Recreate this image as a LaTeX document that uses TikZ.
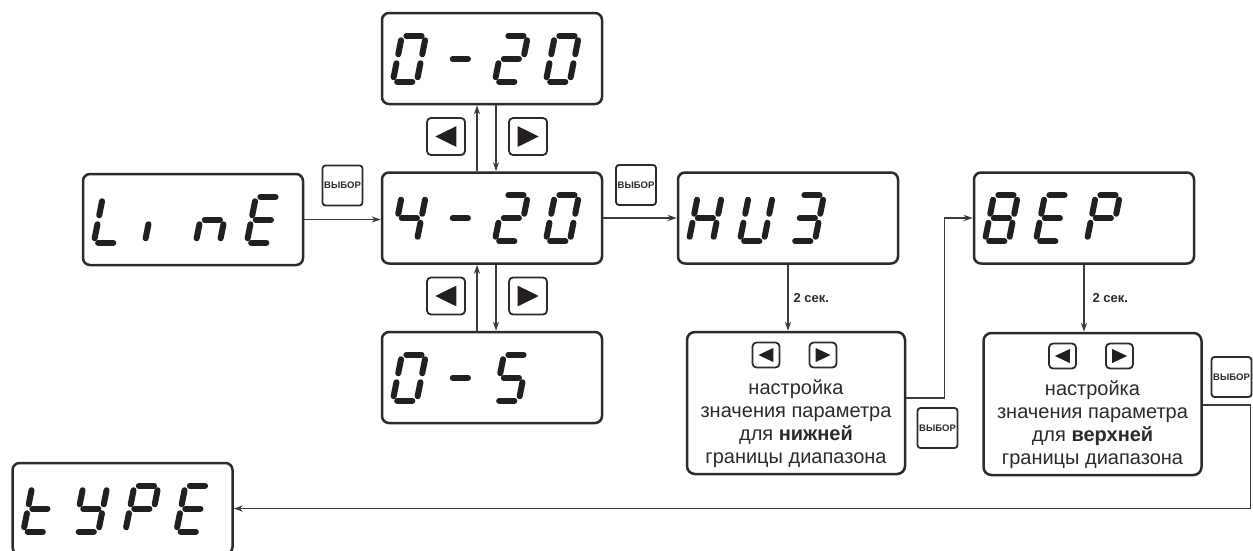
\documentclass[tikz,border=0pt]{standalone}
\usepackage{fontspec}
\setmainfont{Liberation Sans}
\usetikzlibrary{arrows.meta,calc}
\definecolor{ink}{HTML}{2B2B2B}
\definecolor{segc}{HTML}{231F20}
\definecolor{wirec}{HTML}{3C3C3C}
\tikzset{
 disp/.style={draw=ink, line width=2.5pt, rounded corners=7pt, minimum width=220pt, minimum height=91pt, inner sep=0pt},
 seg/.style={draw=segc, line width=6pt, line cap=round},
 selbtn/.style={draw=ink, line width=1.8pt, rounded corners=3pt, minimum size=40pt, inner sep=0pt, font=\fontsize{9.5}{10}\selectfont\bfseries, text=ink},
 arbtn/.style={draw=ink, line width=1.8pt, rounded corners=4pt, inner sep=0pt},
 txtbox/.style={draw=ink, line width=2.5pt, rounded corners=8pt, minimum width=218pt, minimum height=142pt, inner sep=0pt},
 wire/.style={draw=wirec, line width=1.3pt},
 arr/.style={wire, -{Stealth[length=9pt,width=6pt]}},
 lbl/.style={font=\fontsize{13}{15}\selectfont\bfseries, text=ink, anchor=west, inner sep=0pt},
 body/.style={font=\fontsize{20}{23}\selectfont, text=ink, anchor=base, inner sep=0pt},
}
\newcommand\SGa{\draw[seg] (13.6,-46) -- (28.8,-46);}
\newcommand\SGb{\draw[seg] (29.5,-27.5) -- (32.3,-41.5);}
\newcommand\SGc{\draw[seg] (24.9,-4.5) -- (27.7,-18.5);}
\newcommand\SGd{\draw[seg] (4.4,0) -- (19.6,0);}
\newcommand\SGe{\draw[seg] (0.9,-4.5) -- (3.7,-18.5);}
\newcommand\SGf{\draw[seg] (5.5,-27.5) -- (8.3,-41.5);}
\newcommand\SGg{\draw[seg] (9,-23) -- (24.2,-23);}
\newcommand\dg[3]{\begin{scope}[shift={($(#1.north west)+(12+51*#2,70)$)}]\foreach \s in {#3}{\csname SG\s\endcsname}\end{scope}}
\newcommand\arrbtn[6]{%
 \node[arbtn, minimum width=#4pt, minimum height=#5pt] (#1) at (#2,#3) {};
 \fill[segc] ($(#1.center)+({(#6)*0.28*#4},0)$) -- ($(#1.center)+({-(#6)*0.27*#4},{0.28*#5})$) -- ($(#1.center)+({-(#6)*0.27*#4},{-0.28*#5})$) -- cycle;}
\newcommand\tbox[4]{%
 \node[txtbox] (#1) at (#2,#3) {};
 \arrbtn{#1-bl}{#2-30}{#3-48}{27}{25}{-1}
 \arrbtn{#1-br}{#2+27}{#3-48}{27}{25}{1}
 \node[body] (#1-l1) at (#2,#3-9) {настройка};
 \node[body] (#1-l2) at (#2,#3+14) {значения параметра};
 \node[body] (#1-l3) at (#2,#3+37) {для \textbf{#4}};
 \node[body] (#1-l4) at (#2,#3+60) {границы диапазона};}
\begin{document}
\begin{tikzpicture}[x=1pt,y=-1pt]
\useasboundingbox (0,0) rectangle (1253,550);
\clip (0,0) rectangle (1253,550);
\fill[white] (0,0) rectangle (1253,550);
% displays
\node[disp] (lin) at (193,219.5) {};
\node[disp] (z20) at (492,58.5) {};
\node[disp] (f20) at (492,218) {};
\node[disp] (z5) at (492,377.5) {};
\node[disp] (hu3) at (788,218) {};
\node[disp] (bep) at (1084,218) {};
\node[disp] (type) at (122.5,508.5) {};
% digits
\dg{lin}{0}{d,e,f}\dg{lin}{1}{e}\dg{lin}{2}{c,e,g}\dg{lin}{3}{a,d,e,f,g}
\dg{z20}{0}{a,b,c,d,e,f}\dg{z20}{1}{g}\dg{z20}{2}{a,b,g,e,d}\dg{z20}{3}{a,b,c,d,e,f}
\dg{f20}{0}{b,c,f,g}\dg{f20}{1}{g}\dg{f20}{2}{a,b,g,e,d}\dg{f20}{3}{a,b,c,d,e,f}
\dg{z5}{0}{a,b,c,d,e,f}\dg{z5}{1}{g}\dg{z5}{2}{a,c,d,f,g}
\dg{hu3}{0}{b,c,e,f,g}\dg{hu3}{1}{b,c,d,e,f}\dg{hu3}{2}{a,b,c,d,g}
\dg{bep}{0}{a,b,c,d,e,f,g}\dg{bep}{1}{a,d,e,f,g}\dg{bep}{2}{a,b,e,f,g}
\dg{type}{0}{d,e,f,g}\dg{type}{1}{b,c,d,f,g}\dg{type}{2}{a,b,e,f,g}\dg{type}{3}{a,d,e,f,g}
% select buttons
\node[selbtn] (v1) at (342.5,185.5) {ВЫБОР};
\node[selbtn] (v2) at (636,185) {ВЫБОР};
\node[selbtn] (v3) at (937.5,428) {ВЫБОР};
\node[selbtn] (v4) at (1231.5,377) {ВЫБОР};
% arrow buttons
\arrbtn{tl}{446}{136.5}{38}{37}{-1}
\arrbtn{tr}{528}{136.5}{38}{37}{1}
\arrbtn{bl}{446}{296}{38}{37}{-1}
\arrbtn{br}{528}{296}{38}{37}{1}
% text boxes
\tbox{nijn}{796}{403}{нижней}
\tbox{verh}{1092.5}{404}{верхней}
% connectors
\draw[arr] (lin.east) -- (lin.east -| f20.west);
\draw[arr] ([xshift=-15pt]f20.north) -- ([xshift=-15pt]z20.south);
\draw[arr] ([xshift=4pt]z20.south) -- ([xshift=4pt]f20.north);
\draw[arr] ([xshift=-15pt]z5.north) -- ([xshift=-15pt]f20.south);
\draw[arr] ([xshift=4pt]f20.south) -- ([xshift=4pt]z5.north);
\draw[arr] (f20.east) -- (hu3.west);
\draw[arr] (hu3.south) -- (hu3.south |- nijn.north) node[lbl, pos=0.5, xshift=5pt] (s1) {2 сек.};
\draw[arr] (bep.south) -- (bep.south |- verh.north) node[lbl, pos=0.5, xshift=8pt] (s2) {2 сек.};
\draw[arr] ([yshift=5pt]nijn.east) -- ++(38,0) |- (bep.west);
\draw[arr] ([yshift=-1pt]verh.east) -- ++(48,0) |- (type.east);
\end{tikzpicture}
\end{document}
